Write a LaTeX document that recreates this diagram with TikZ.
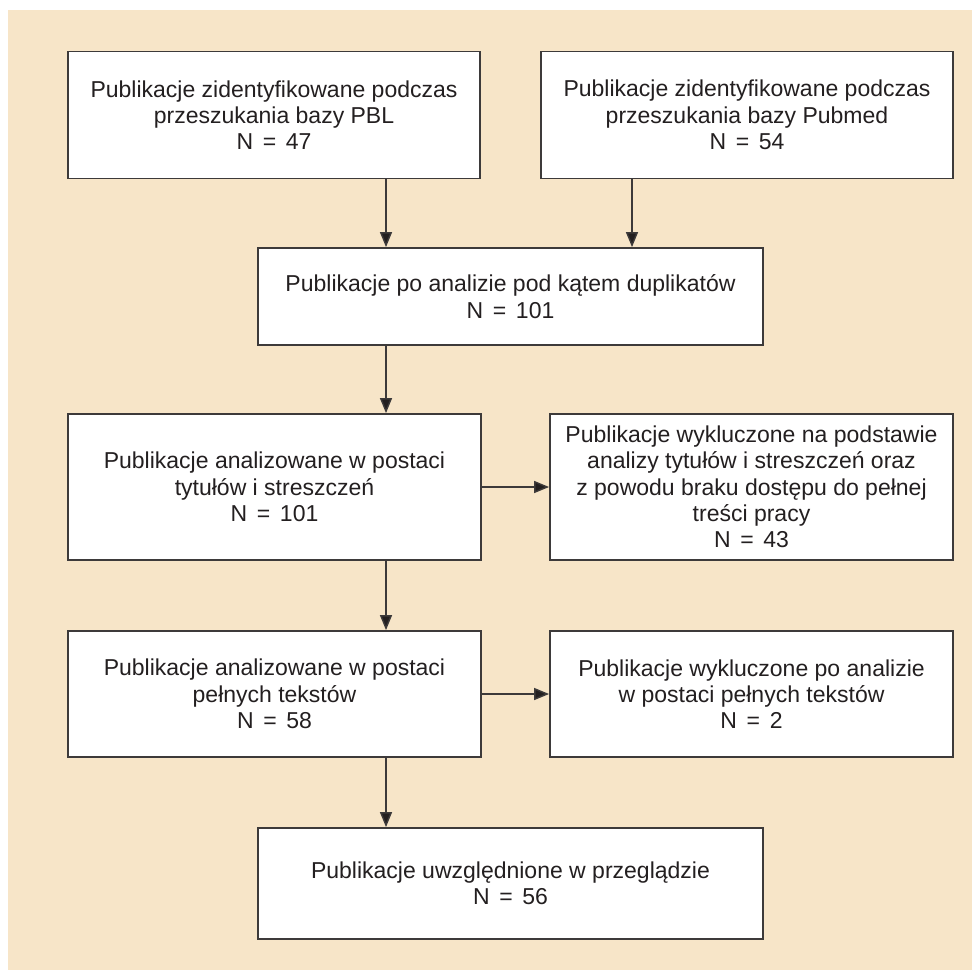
\documentclass[tikz,border=0pt]{standalone}
\usepackage{fontspec}
\setmainfont{Liberation Sans}
\usetikzlibrary{arrows.meta}
\definecolor{bgc}{HTML}{F7E5C8}
\definecolor{linec}{HTML}{3D3A3A}
\definecolor{txtc}{HTML}{231F20}
\newcommand{\eqn}[1]{N\hspace{0.42em}=\hspace{0.42em}#1}
\tikzset{
  box/.style={draw=linec, line width=1.8pt, fill=white, inner sep=0pt, align=center,
    text=txtc, font=\fontsize{23pt}{26.3pt}\selectfont},
  arr/.style={draw=linec, line width=1.4pt, -{Triangle[length=15pt,width=12pt,fill=txtc]}}
}
\begin{document}
\begin{tikzpicture}[x=1pt,y=-1pt]
\useasboundingbox (0,0) rectangle (972,970);
\fill[bgc] (8,10) rectangle (972,970);
\node[box, minimum width=412pt, minimum height=127pt] (b1) at (274,115)
  {Publikacje zidentyfikowane podczas\\przeszukania bazy PBL\\\eqn{47}};
\node[box, minimum width=412pt, minimum height=127pt] (b2) at (747,115)
  {Publikacje zidentyfikowane podczas\\przeszukania bazy Pubmed\\\eqn{54}};
\node[box, minimum width=505pt, minimum height=97pt] (b3) at (510.5,296.5)
  {Publikacje po analizie pod kątem duplikatów\\\eqn{101}};
\node[box, minimum width=413pt, minimum height=146pt] (b4) at (274.5,487)
  {Publikacje analizowane w postaci\\tytułów i streszczeń\\\eqn{101}};
\node[box, minimum width=403pt, minimum height=146pt] (b5) at (751.5,487)
  {Publikacje wykluczone na podstawie\\analizy tytułów i streszczeń oraz\\z powodu braku dostępu do pełnej\\treści pracy\\\eqn{43}};
\node[box, minimum width=413pt, minimum height=126pt] (b6) at (274.5,694)
  {Publikacje analizowane w postaci\\pełnych tekstów\\\eqn{58}};
\node[box, minimum width=403pt, minimum height=126pt] (b7) at (751.5,694)
  {Publikacje wykluczone po analizie\\w postaci pełnych tekstów\\\eqn{2}};
\node[box, minimum width=505pt, minimum height=111pt] (b8) at (510.5,883.5)
  {Publikacje uwzględnione w przeglądzie\\\eqn{56}};
\coordinate (xl) at (386,0);
\coordinate (xr) at (632,0);
\draw[arr] (b1.south -| xl) -- (b3.north -| xl);
\draw[arr] (b2.south -| xr) -- (b3.north -| xr);
\draw[arr] (b3.south -| xl) -- (b4.north -| xl);
\draw[arr] (b4.east) -- (b5.west);
\draw[arr] (b4.south -| xl) -- (b6.north -| xl);
\draw[arr] (b6.east) -- (b7.west);
\draw[arr] (b6.south -| xl) -- (b8.north -| xl);
\end{tikzpicture}
\end{document}
